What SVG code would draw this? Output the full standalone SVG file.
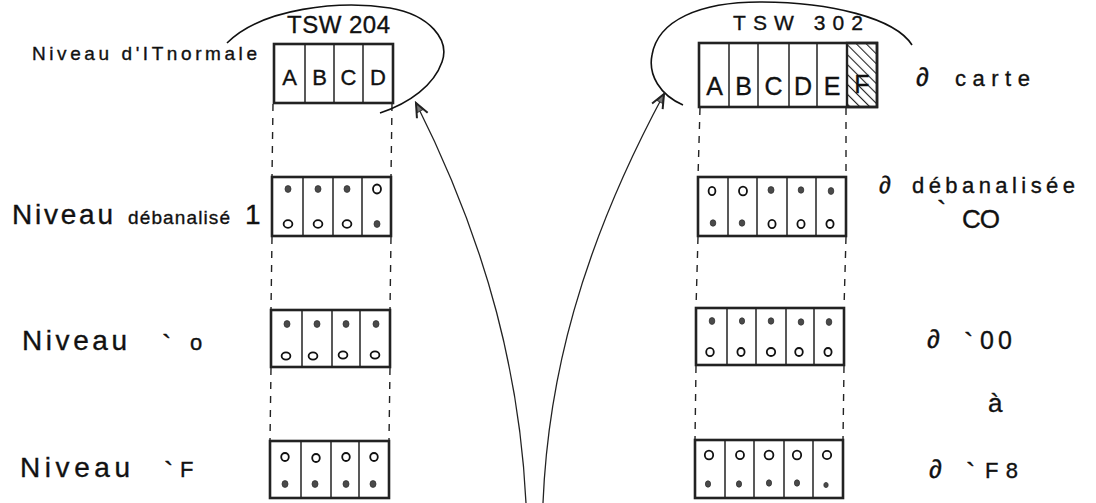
<svg xmlns="http://www.w3.org/2000/svg" width="1096" height="503" viewBox="0 0 1096 503">
  <style>
    .box { fill: #fff; stroke: #222; stroke-width: 2.6; }
    .div { stroke: #222; stroke-width: 1.5; }
    .full { fill: #4a4a4a; stroke: #333; stroke-width: 0.8; }
    .open { fill: #fff; stroke: #111; stroke-width: 1.8; }
    .guide { stroke: #222; stroke-width: 1.4; stroke-dasharray: 7 7; fill: none; }
    .loop { fill: none; stroke: #111; stroke-width: 1.6; }
    .link { fill: none; stroke: #222; stroke-width: 1.3; }
    text { font-family: "Liberation Sans", Arial, sans-serif; fill: #111; stroke: #111; stroke-width: 0.35; }
    .lbl { font-size: 28px; }
    .small { font-size: 19px; }
    .cell { font-size: 22px; text-anchor: middle; }
    .rcell { font-size: 25px; text-anchor: middle; }
  </style>
  <defs>
    <pattern id="hatch" width="7" height="7" patternUnits="userSpaceOnUse" patternTransform="rotate(-45)">
      <line x1="0" y1="0" x2="0" y2="7" stroke="#222" stroke-width="2.2"/>
    </pattern>
    <marker id="head" viewBox="-16 -8 18 16" markerWidth="18" markerHeight="16" refX="0" refY="0" orient="auto" markerUnits="userSpaceOnUse">
      <path d="M0,0 L-9,-3.5 L-9,3.5 Z" fill="#777" stroke="#333" stroke-width="1"/>
      <path d="M-14,-6 L0,0 L-14,6" fill="none" stroke="#222" stroke-width="2"/>
    </marker>
  </defs>

  <!-- connectors: dashed guides, memory loops and the two arrows -->
  <g id="connectors">
    <line class="guide" x1="273" y1="104" x2="272" y2="177"/>
    <line class="guide" x1="272" y1="237" x2="271" y2="310"/>
    <line class="guide" x1="271" y1="368" x2="270" y2="441"/>
    <line class="guide" x1="392" y1="104" x2="391" y2="177"/>
    <line class="guide" x1="391" y1="237" x2="390" y2="310"/>
    <line class="guide" x1="390" y1="368" x2="389" y2="440"/>

    <line class="guide" x1="700" y1="108" x2="698" y2="177"/>
    <line class="guide" x1="698" y1="237" x2="696" y2="308"/>
    <line class="guide" x1="696" y1="366" x2="695" y2="440"/>
    <line class="guide" x1="846" y1="108" x2="846" y2="177"/>
    <line class="guide" x1="846" y1="237" x2="844" y2="308"/>
    <line class="guide" x1="844" y1="366" x2="843" y2="440"/>

    <path class="loop" d="M227,43 C262,8 340,0 390,8 C430,15 450,40 442,62 C434,85 410,103 380,113"/>
    <path class="loop" d="M683,105 C660,95 648,75 652,55 C658,20 700,2 760,2 C830,2 895,18 912,45"/>

    <path class="link" d="M526,503 C520,380 490,250 416,103" marker-end="url(#head)"/>
    <path class="link" d="M543,503 C548,380 580,250 664,94" marker-end="url(#head)"/>
  </g>

  <!-- left register TSW 204 -->
  <g id="tsw204-normal">
    <text x="287" y="33" style="font-size:24px" textLength="103" lengthAdjust="spacing">TSW 204</text>
    <text x="32" y="60" class="small" textLength="225" lengthAdjust="spacing">Niveau d'ITnormale</text>
    <rect class="box" x="274" y="44" width="119" height="59"/>
    <line class="div" x1="305" y1="44" x2="305" y2="103"/>
    <line class="div" x1="334" y1="44" x2="334" y2="103"/>
    <line class="div" x1="363" y1="44" x2="363" y2="103"/>
    <text class="cell" x="289.5" y="85">A</text>
    <text class="cell" x="319.5" y="85">B</text>
    <text class="cell" x="348.5" y="85">C</text>
    <text class="cell" x="378" y="85">D</text>
  </g>

  <g id="tsw204-deb1">
    <text y="224"><tspan x="12" class="lbl" textLength="101" lengthAdjust="spacing">Niveau</tspan><tspan x="128" class="small" textLength="102" lengthAdjust="spacing">débanalisé</tspan><tspan x="245" class="lbl">1</tspan></text>
    <rect class="box" x="272" y="177" width="119" height="59"/>
    <line class="div" x1="303" y1="177" x2="303" y2="236"/>
    <line class="div" x1="333" y1="177" x2="333" y2="236"/>
    <line class="div" x1="362" y1="177" x2="362" y2="236"/>
    <ellipse class="full" cx="288" cy="189" rx="3" ry="3.4"/>
    <ellipse class="full" cx="318" cy="189" rx="3" ry="3.4"/>
    <ellipse class="full" cx="347" cy="189" rx="3" ry="3.4"/>
    <ellipse class="open" cx="377" cy="189" rx="4" ry="4.5"/>
    <ellipse class="open" cx="288" cy="224" rx="4.4" ry="3.8"/>
    <ellipse class="open" cx="318" cy="224" rx="4.4" ry="3.8"/>
    <ellipse class="open" cx="347" cy="224" rx="4.4" ry="3.8"/>
    <ellipse class="full" cx="377" cy="224" rx="3" ry="3.4"/>
  </g>

  <g id="tsw204-lvl0">
    <text y="350"><tspan x="22" class="lbl" textLength="105" lengthAdjust="spacing">Niveau</tspan><tspan x="162" y="354" class="lbl">`</tspan><tspan x="190" y="350" style="font-size:22px">o</tspan></text>
    <rect class="box" x="271" y="310" width="119" height="57"/>
    <line class="div" x1="302" y1="310" x2="302" y2="367"/>
    <line class="div" x1="332" y1="310" x2="332" y2="367"/>
    <line class="div" x1="360" y1="310" x2="360" y2="367"/>
    <ellipse class="full" cx="287" cy="324" rx="3" ry="3.4"/>
    <ellipse class="full" cx="317" cy="324" rx="3" ry="3.4"/>
    <ellipse class="full" cx="346" cy="324" rx="3" ry="3.4"/>
    <ellipse class="full" cx="376" cy="324" rx="3" ry="3.4"/>
    <ellipse class="open" cx="286" cy="356" rx="4.4" ry="3.6"/>
    <ellipse class="open" cx="313" cy="356" rx="4.4" ry="3.6"/>
    <ellipse class="open" cx="343" cy="355" rx="4.4" ry="3.6"/>
    <ellipse class="open" cx="375" cy="355" rx="4.4" ry="3.6"/>
  </g>

  <g id="tsw204-lvlF">
    <text y="477"><tspan x="20" class="lbl" textLength="110" lengthAdjust="spacing">Niveau</tspan><tspan x="164" y="481" class="lbl">`</tspan><tspan x="180" y="477" style="font-size:22px">F</tspan></text>
    <rect class="box" x="270" y="441" width="119" height="57"/>
    <line class="div" x1="301" y1="441" x2="301" y2="498"/>
    <line class="div" x1="331" y1="441" x2="331" y2="498"/>
    <line class="div" x1="359" y1="441" x2="359" y2="498"/>
    <ellipse class="open" cx="285" cy="457" rx="3.8" ry="4"/>
    <ellipse class="open" cx="316" cy="458" rx="3.8" ry="4"/>
    <ellipse class="open" cx="346" cy="457" rx="3.8" ry="4"/>
    <ellipse class="open" cx="374" cy="457" rx="3.8" ry="4"/>
    <ellipse class="full" cx="285" cy="484" rx="3" ry="3.4"/>
    <ellipse class="full" cx="315" cy="484" rx="3" ry="3.4"/>
    <ellipse class="full" cx="346" cy="484" rx="3" ry="3.4"/>
    <ellipse class="full" cx="373" cy="484" rx="3" ry="3.4"/>
  </g>

  <!-- right register TSW 302 -->
  <g id="tsw302-card">
    <text x="733" y="30" style="font-size:21px" textLength="130" lengthAdjust="spacing">TSW 302</text>
    <rect class="box" x="699" y="43" width="178" height="64"/>
    <rect x="847" y="43" width="30" height="64" fill="url(#hatch)"/>
    <rect x="847" y="43" width="30" height="64" fill="none" stroke="#222" stroke-width="2.4"/>
    <line class="div" x1="729" y1="43" x2="729" y2="107"/>
    <line class="div" x1="758" y1="43" x2="758" y2="107"/>
    <line class="div" x1="789" y1="43" x2="789" y2="107"/>
    <line class="div" x1="817" y1="43" x2="817" y2="107"/>
    <line class="div" x1="847" y1="43" x2="847" y2="107"/>
    <text class="rcell" x="714.5" y="95">A</text>
    <text class="rcell" x="743.5" y="95">B</text>
    <text class="rcell" x="773.5" y="95">C</text>
    <text class="rcell" x="803" y="95">D</text>
    <text class="rcell" x="832" y="95">E</text>
    <text class="rcell" x="862" y="93">F</text>
    <text y="86"><tspan x="916" style="font-size:26px">∂</tspan><tspan x="955" style="font-size:22px" textLength="75" lengthAdjust="spacing">carte</tspan></text>
  </g>

  <g id="tsw302-deb">
    <rect class="box" x="698" y="177" width="148" height="59"/>
    <line class="div" x1="728" y1="177" x2="728" y2="236"/>
    <line class="div" x1="757" y1="177" x2="757" y2="236"/>
    <line class="div" x1="787" y1="177" x2="787" y2="236"/>
    <line class="div" x1="816" y1="177" x2="816" y2="236"/>
    <ellipse class="open" cx="712" cy="191" rx="3.4" ry="4.2"/>
    <ellipse class="open" cx="743" cy="191" rx="4" ry="4.4"/>
    <ellipse class="full" cx="771" cy="190" rx="3" ry="3.4"/>
    <ellipse class="full" cx="801" cy="190" rx="2.8" ry="3.2"/>
    <ellipse class="full" cx="831" cy="191" rx="2.8" ry="3.4"/>
    <ellipse class="full" cx="713" cy="223" rx="2.8" ry="3.2"/>
    <ellipse class="full" cx="742" cy="223" rx="2.8" ry="3.2"/>
    <ellipse class="open" cx="772" cy="224" rx="3.6" ry="4.2"/>
    <ellipse class="open" cx="801" cy="224" rx="3.6" ry="4.2"/>
    <ellipse class="open" cx="830" cy="224" rx="3.6" ry="4"/>
    <text y="193"><tspan x="879" style="font-size:24px">∂</tspan><tspan x="912" style="font-size:22px" textLength="163" lengthAdjust="spacing">débanalisée</tspan></text>
    <text y="228"><tspan x="937" y="220" class="lbl">`</tspan><tspan x="962" y="228" style="font-size:26px" textLength="38" lengthAdjust="spacing">CO</tspan></text>
  </g>

  <g id="tsw302-lvl00">
    <rect class="box" x="696" y="308" width="148" height="57"/>
    <line class="div" x1="727" y1="308" x2="727" y2="365"/>
    <line class="div" x1="756" y1="308" x2="756" y2="365"/>
    <line class="div" x1="786" y1="308" x2="786" y2="365"/>
    <line class="div" x1="814" y1="308" x2="814" y2="365"/>
    <ellipse class="full" cx="712" cy="321" rx="2.8" ry="3.4"/>
    <ellipse class="full" cx="742" cy="321" rx="2.6" ry="3.2"/>
    <ellipse class="full" cx="771" cy="321" rx="2.8" ry="3.2"/>
    <ellipse class="full" cx="801" cy="322" rx="2.8" ry="3.2"/>
    <ellipse class="full" cx="829" cy="322" rx="2.8" ry="3.4"/>
    <ellipse class="open" cx="710" cy="352" rx="3.8" ry="4.2"/>
    <ellipse class="open" cx="741" cy="352" rx="3.6" ry="4"/>
    <ellipse class="open" cx="771" cy="352" rx="4.2" ry="4"/>
    <ellipse class="open" cx="799" cy="352" rx="3.8" ry="4"/>
    <ellipse class="open" cx="828" cy="352" rx="3.6" ry="4"/>
    <text y="348"><tspan x="927" style="font-size:26px">∂</tspan><tspan x="964" y="352" class="lbl">`</tspan><tspan x="980" y="349" style="font-size:25px" textLength="32" lengthAdjust="spacing">00</tspan></text>
  </g>

  <text x="988" y="412" style="font-size:26px">à</text>

  <g id="tsw302-lvlF8">
    <rect class="box" x="695" y="440" width="148" height="58"/>
    <line class="div" x1="725" y1="440" x2="725" y2="498"/>
    <line class="div" x1="754" y1="440" x2="754" y2="498"/>
    <line class="div" x1="784" y1="440" x2="784" y2="498"/>
    <line class="div" x1="813" y1="440" x2="813" y2="498"/>
    <ellipse class="open" cx="709" cy="455" rx="4.2" ry="4.4"/>
    <ellipse class="open" cx="740" cy="455" rx="4" ry="4.2"/>
    <ellipse class="open" cx="769" cy="455" rx="4.4" ry="4.4"/>
    <ellipse class="open" cx="797" cy="455" rx="4.2" ry="4.4"/>
    <ellipse class="open" cx="827" cy="455" rx="4.2" ry="4.2"/>
    <ellipse class="full" cx="708" cy="484" rx="2.6" ry="3.2"/>
    <ellipse class="full" cx="739" cy="484" rx="2.6" ry="3.2"/>
    <ellipse class="full" cx="769" cy="483" rx="2.6" ry="3.2"/>
    <ellipse class="full" cx="797" cy="483" rx="2.6" ry="3.2"/>
    <ellipse class="full" cx="826" cy="485" rx="2.2" ry="2.6"/>
    <text y="478"><tspan x="929" style="font-size:26px">∂</tspan><tspan x="966" y="482" class="lbl">`</tspan><tspan x="985" y="478" style="font-size:22px" textLength="33" lengthAdjust="spacing">F8</tspan></text>
  </g>
</svg>
